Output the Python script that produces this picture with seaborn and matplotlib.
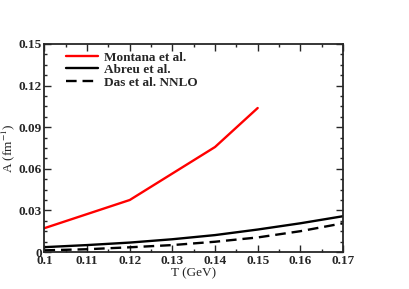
import numpy as np
import pandas as pd
import matplotlib
matplotlib.use("Agg")
import matplotlib.pyplot as plt
from matplotlib.ticker import MultipleLocator
import seaborn as sns

# data
t_montana = [0.10, 0.12, 0.14, 0.15]
a_montana = [0.0172, 0.0375, 0.0757, 0.1038]

t_grid = [0.10, 0.11, 0.12, 0.13, 0.14, 0.15, 0.16, 0.17]
a_abreu = [0.0035, 0.0050, 0.0068, 0.0092, 0.0122, 0.0162, 0.0207, 0.0258]
a_das = [0.0012, 0.0020, 0.0034, 0.0050, 0.0074, 0.0105, 0.0150, 0.0207]

sns.set_style("ticks")
plt.rcParams["font.family"] = ["Liberation Serif", "DejaVu Serif"]
plt.rcParams["mathtext.fontset"] = "stix"

fig = plt.figure(figsize=(4.1, 2.89), dpi=100)
ax = fig.add_axes([0.1085, 0.128, 0.728, 0.72])

df_m = pd.DataFrame({"T": t_montana, "A": a_montana})
df_a = pd.DataFrame({"T": t_grid, "A": a_abreu})
df_d = pd.DataFrame({"T": t_grid, "A": a_das})

sns.lineplot(data=df_m, x="T", y="A", ax=ax, color="#ff0000", lw=1.7, label="Montana et al.")
sns.lineplot(data=df_a, x="T", y="A", ax=ax, color="black", lw=1.7, label="Abreu et al.")
sns.lineplot(data=df_d, x="T", y="A", ax=ax, color="black", lw=1.7, label="Das et al. NNLO",
             linestyle=(0, (4.5, 2.5)))

ax.set_xlim(0.1, 0.17)
ax.set_ylim(0, 0.15)
ax.set_xticks(np.arange(0.1, 0.1701, 0.01))
ax.set_xticklabels(["0.1", "0.11", "0.12", "0.13", "0.14", "0.15", "0.16", "0.17"])
ax.set_yticks(np.arange(0, 0.1501, 0.03))
ax.set_yticklabels(["0", "0.03", "0.06", "0.09", "0.12", "0.15"])
ax.xaxis.set_minor_locator(MultipleLocator(0.005))
ax.yaxis.set_minor_locator(MultipleLocator(0.0075))
ax.tick_params(which="both", direction="in", top=True, right=True, width=1)
ax.tick_params(which="major", length=5, labelsize=9.5, pad=2)
ax.tick_params(which="minor", length=2.5)
for lab in ax.get_xticklabels() + ax.get_yticklabels():
    lab.set_fontweight("bold")
for s in ax.spines.values():
    s.set_linewidth(1.3)

ax.set_xlabel("T (GeV)", fontsize=9.5, labelpad=0)
ax.set_ylabel(r"A (fm$^{-1}$)", fontsize=9.5, labelpad=1)

leg = ax.legend(loc="upper left", bbox_to_anchor=(0.055, 0.99), frameon=False,
                handlelength=2.4, handletextpad=0.5, labelspacing=0.02, borderaxespad=0,
                prop={"weight": "bold", "size": 9.5})

fig.savefig("out.png", dpi=100)
